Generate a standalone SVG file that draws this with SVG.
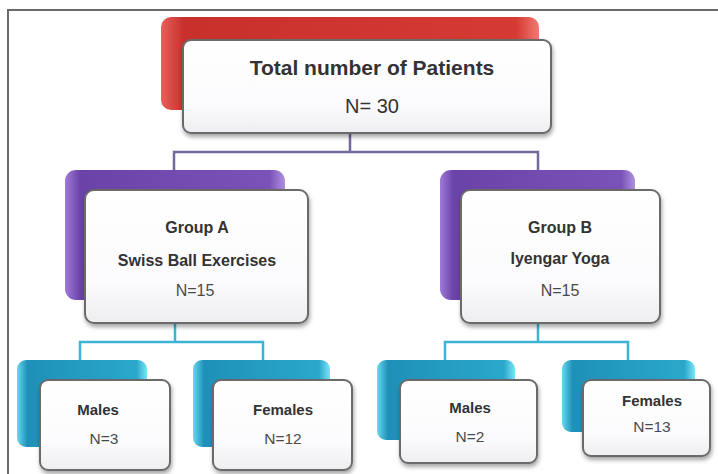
<svg xmlns="http://www.w3.org/2000/svg" width="718" height="474" viewBox="0 0 718 474">
<defs>
<linearGradient id="gRed" x1="0" y1="0" x2="1" y2="0"><stop offset="0" stop-color="#e8605a"/><stop offset="0.06" stop-color="#c8302c"/><stop offset="0.94" stop-color="#d63a34"/><stop offset="1" stop-color="#f07a70"/></linearGradient>
<linearGradient id="gPur" x1="0" y1="0" x2="1" y2="0"><stop offset="0" stop-color="#a07ad8"/><stop offset="0.07" stop-color="#6a42a8"/><stop offset="0.93" stop-color="#7a52b8"/><stop offset="1" stop-color="#b090e0"/></linearGradient>
<linearGradient id="gCyan" x1="0" y1="0" x2="1" y2="0"><stop offset="0" stop-color="#6ad8f0"/><stop offset="0.08" stop-color="#1f90b8"/><stop offset="0.92" stop-color="#2aa8cc"/><stop offset="1" stop-color="#7ae4f8"/></linearGradient>
<linearGradient id="gWhite" x1="0" y1="0" x2="0" y2="1"><stop offset="0" stop-color="#ffffff"/><stop offset="0.7" stop-color="#fbfbfd"/><stop offset="1" stop-color="#eeeef2"/></linearGradient>
<filter id="sh" x="-10%" y="-10%" width="130%" height="130%"><feDropShadow dx="1" dy="3" stdDeviation="2" flood-color="#000" flood-opacity="0.35"/></filter>
</defs>
<style>
.frame{fill:none;stroke:#6a6a6a;stroke-width:2}
.front{fill:url(#gWhite);stroke:#6b6b6b;stroke-width:2;filter:url(#sh)}
.red{fill:url(#gRed)}
.pur{fill:url(#gPur)}
.cyan{fill:url(#gCyan)}
.lp{fill:none;stroke:#75689a;stroke-width:2.5}
.lc{fill:none;stroke:#3db4d4;stroke-width:2.5}
text{font-family:"Liberation Sans",Arial,sans-serif;fill:#333;text-anchor:middle}
.b{font-weight:bold}
.n{fill:#4a4a4a}
</style>
<rect width="718" height="474" fill="#fff"/>
<path class="frame" d="M8 474 V10 H718"/>
<g id="connectors">
<path class="lp" d="M350 133 V152 M174 170 V152 H538 V170"/>
<path class="lc" d="M175 323 V342 M80 360 V342 H263 V360"/>
<path class="lc" d="M538 323 V342 M445 360 V342 H628 V360"/>
</g>
<g id="total">
<rect class="red" x="161" y="17" width="378" height="93" rx="10"/>
<rect class="front" x="183" y="40" width="368" height="93" rx="8"/>
<text class="b" x="372" y="75" font-size="21">Total number of Patients</text>
<text x="372" y="113" font-size="20">N= 30</text>
</g>
<g id="groupA">
<rect class="pur" x="65" y="170" width="220" height="130" rx="11"/>
<rect class="front" x="85" y="190" width="223" height="133" rx="9"/>
<text class="b" x="197" y="233" font-size="16">Group A</text>
<text class="b" x="197" y="266" font-size="16">Swiss Ball Exercises</text>
<text class="n" x="195" y="296" font-size="16">N=15</text>
</g>
<g id="groupB">
<rect class="pur" x="440" y="170" width="195" height="130" rx="11"/>
<rect class="front" x="461" y="190" width="199" height="133" rx="9"/>
<text class="b" x="560" y="233" font-size="16">Group B</text>
<text class="b" x="560" y="264" font-size="16">Iyengar Yoga</text>
<text class="n" x="560" y="296" font-size="16">N=15</text>
</g>
<g id="malesA">
<rect class="cyan" x="17" y="360" width="130" height="87" rx="9"/>
<rect class="front" x="40" y="380" width="130" height="90" rx="8"/>
<text class="b" x="98" y="415" font-size="15">Males</text>
<text class="n" x="104" y="444" font-size="15.5">N=3</text>
</g>
<g id="femalesA">
<rect class="cyan" x="193" y="360" width="137" height="87" rx="9"/>
<rect class="front" x="213" y="380" width="139" height="90" rx="8"/>
<text class="b" x="283" y="415" font-size="15">Females</text>
<text class="n" x="283" y="444" font-size="15.5">N=12</text>
</g>
<g id="malesB">
<rect class="cyan" x="377" y="360" width="138" height="80" rx="9"/>
<rect class="front" x="400" y="380" width="137" height="83" rx="8"/>
<text class="b" x="470" y="413" font-size="15">Males</text>
<text class="n" x="470" y="442" font-size="15.5">N=2</text>
</g>
<g id="femalesB">
<rect class="cyan" x="562" y="360" width="133" height="72" rx="9"/>
<rect class="front" x="583" y="380" width="127" height="76" rx="8"/>
<text class="b" x="652" y="406" font-size="15">Females</text>
<text class="n" x="652" y="432" font-size="15.5">N=13</text>
</g>
</svg>
